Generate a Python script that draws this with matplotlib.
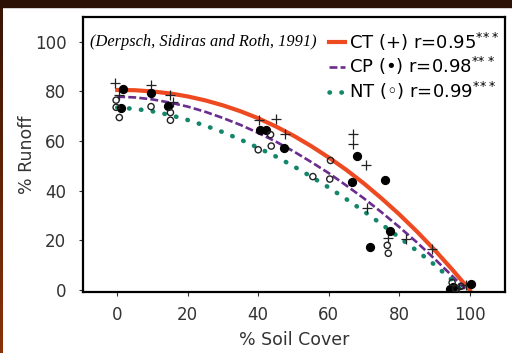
"""
Runoff vs soil cover for three tillage systems.
"""

import numpy as np
import matplotlib.pyplot as plt
from matplotlib.colors import LinearSegmentedColormap

plt.rcParams["font.family"] = ["DejaVu Sans"]

ct_x = [-0.6, 0.5, 9.6, 14.9, 15.8, 40.3, 45.1, 47.5, 66.9, 66.9, 70.5, 70.9, 76.8, 81.8, 89.4, 97.0, 99.0]
ct_y = [83.3, 78.5, 82.6, 78.6, 75.9, 68.4, 68.8, 63.0, 63.0, 58.7, 50.4, 32.9, 21.0, 20.7, 16.5, 1.0, 2.0]

cp_x = [1.6, 1.1, 9.6, 14.4, 40.4, 42.3, 47.2, 68.1, 66.5, 76.0, 77.3, 71.7, 95.3, 94.5, 100.3]
cp_y = [81.0, 73.2, 79.3, 74.1, 64.4, 64.4, 57.2, 53.8, 43.4, 44.3, 23.6, 17.2, 1.3, 0.3, 2.4]

nt_x = [-0.3, -0.3, 0.6, 9.6, 15.1, 15.1, 40.0, 43.5, 43.7, 55.5, 60.5, 60.3, 76.6, 76.9, 95.0, 97.5, 96.0]
nt_y = [76.5, 73.6, 69.5, 73.9, 71.5, 68.4, 56.5, 62.6, 58.0, 45.7, 52.2, 44.7, 18.0, 14.8, 3.0, 1.5, 0.5]

# Fitted curves (values every 5 % of cover)
fit_x = [0, 5, 10, 15, 20, 25, 30, 35, 40, 45, 50, 55, 60, 65, 70, 75, 80, 85, 90, 95]
ct_fit_y = [80.6, 80.5, 80.0, 79.2, 78.0, 76.4, 74.4, 72.0, 69.2, 65.9, 62.2, 58.0, 53.4,
            48.4, 42.9, 36.9, 30.5, 23.6, 16.2, 8.3]
cp_fit_y = [77.9, 77.6, 76.8, 75.5, 73.9, 71.8, 69.3, 66.5, 63.3, 59.8, 55.9, 51.6, 47.1,
            42.1, 36.9, 31.3, 25.4, 19.2, 12.6, 5.7]
nt_fit_y = [73.5, 73.0, 72.0, 70.5, 68.5, 66.2, 63.6, 60.6, 57.3, 53.8, 49.9, 45.7, 41.3,
            36.6, 31.7, 26.5, 21.2, 15.8, 10.2, 4.0]
ct_end_x, cp_end_x, nt_end_x = 100, 99, 97.5

fig = plt.figure(figsize=(5.12, 3.53), dpi=100)

# Dark photo-like frame on the top and left edges
fig.patches.append(plt.Rectangle((0, 1 - 7 / 353), 1, 7 / 353, transform=fig.transFigure,
                                 color="#2b1106", zorder=0))
edge = fig.add_axes([0, 0, 3 / 512, 1 - 7 / 353])
edge.imshow(np.linspace(0, 1, 100).reshape(-1, 1), aspect="auto",
            cmap=LinearSegmentedColormap.from_list("edge", ["#3a1406", "#8a3208"]))
edge.axis("off")

ax = fig.add_axes([83 / 512, 1 - 292 / 353, 422 / 512, 275 / 353])

ax.plot(fit_x + [ct_end_x], ct_fit_y + [0], color="#ee4a22", lw=3.0,
        label=r"CT (+) r=0.95$^{*\!*\!*}$", zorder=2)
ax.plot(fit_x + [cp_end_x], cp_fit_y + [0], color="#6a2c8e", lw=1.9, ls=(0, (3, 1.2)),
        label=r"CP (•) r=0.98$^{*\!*\!*}$", zorder=2)
ax.plot(fit_x + [nt_end_x], nt_fit_y + [0], color="#14866a", lw=3.3, ls=(0, (0.1, 2.5)),
        dash_capstyle="round", label=r"NT (◦) r=0.99$^{*\!*\!*}$", zorder=2)

ax.scatter(ct_x, ct_y, marker="+", s=50, color="#222222", lw=0.9, zorder=3)
ax.scatter(cp_x, cp_y, marker="o", s=32, color="black", zorder=3)
ax.scatter(nt_x, nt_y, marker="o", s=20, facecolors="none", edgecolors="#222222", lw=1.0, zorder=3)

ax.set_xlim(-9.7, 110)
ax.set_ylim(-0.8, 110)
ax.set_xticks([0, 20, 40, 60, 80, 100])
ax.set_yticks([0, 20, 40, 60, 80, 100])
ax.tick_params(labelsize=12, colors="#333333", length=3, width=0.8)
ax.tick_params(axis="y", pad=9)
ax.tick_params(axis="x", pad=7)
for sp in ax.spines.values():
    sp.set_linewidth(1.6)

ax.set_xlabel("% Soil Cover", fontsize=12.5, color="#333333", labelpad=5)
ax.set_ylabel("% Runoff", fontsize=12.5, color="#333333")
ax.yaxis.set_label_coords(-0.112, 0.5)

ax.text(-7.8, 100, "(Derpsch, Sidiras and Roth, 1991)", family=["Liberation Serif", "DejaVu Serif"],
        style="italic", fontsize=11.8, va="center", ha="left")

ax.legend(loc="upper right", bbox_to_anchor=(1.012, 0.99), frameon=False, fontsize=13,
          handlelength=0.9, handletextpad=0.2, labelspacing=0.15, borderaxespad=0.2)

fig.savefig("out.png", dpi=100)
